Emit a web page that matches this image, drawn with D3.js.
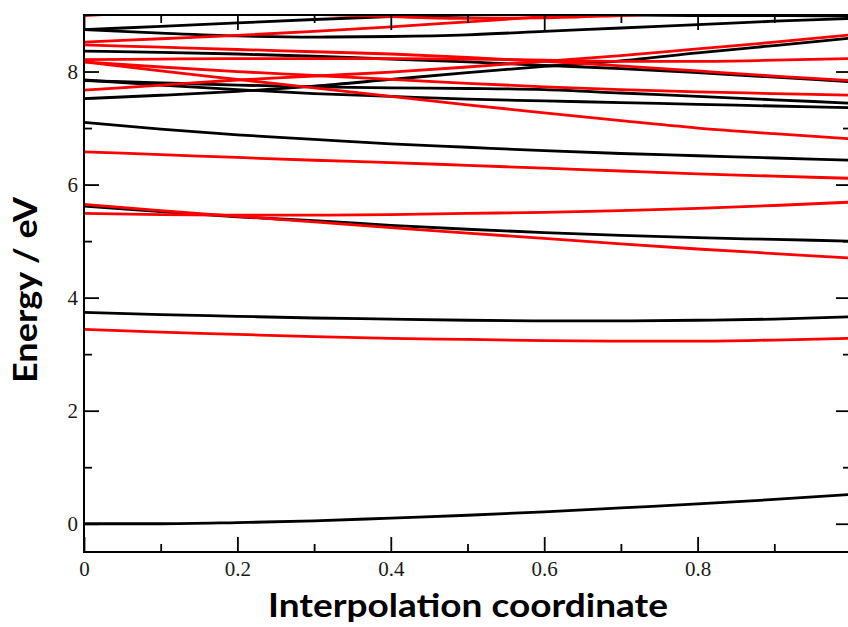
<!DOCTYPE html>
<html>
<head>
<meta charset="utf-8">
<script src="https://cdn.jsdelivr.net/npm/d3@7/dist/d3.min.js"></script>
<style>
  html, body { margin: 0; padding: 0; background: #fff; }
  svg { display: block; }
</style>
</head>
<body>
<svg id="chart" width="848" height="627"></svg>
<script>
// ---- data ----
const coords = [0, 0.1, 0.2, 0.3, 0.4, 0.5, 0.6, 0.7, 0.8, 0.9, 1.0];

// black curves
const blackGround = [0.00, 0.00, 0.02, 0.05, 0.10, 0.15, 0.21, 0.28, 0.35, 0.43, 0.52];
const black37     = [3.74, 3.70, 3.67, 3.64, 3.62, 3.60, 3.59, 3.59, 3.60, 3.62, 3.66];
const black56     = [5.62, 5.52, 5.43, 5.36, 5.28, 5.21, 5.15, 5.10, 5.06, 5.03, 5.00];
const black71     = [7.10, 6.98, 6.88, 6.80, 6.72, 6.66, 6.60, 6.55, 6.51, 6.47, 6.43];
const black75     = [7.52, 7.58, 7.65, 7.74, 7.86, 7.98, 8.09, 8.19, 8.33, 8.46, 8.59];
const black785a   = [7.85, 7.76, 7.68, 7.61, 7.56, 7.51, 7.48, 7.45, 7.42, 7.39, 7.36];
const black785b   = [7.84, 7.80, 7.76, 7.73, 7.71, 7.70, 7.68, 7.62, 7.56, 7.50, 7.44];
const black836    = [8.36, 8.34, 8.31, 8.27, 8.22, 8.17, 8.11, 8.05, 7.98, 7.90, 7.82];
const black874a   = [8.74, 8.68, 8.63, 8.61, 8.62, 8.65, 8.71, 8.77, 8.83, 8.89, 8.94];
const black874b   = [8.74, 8.80, 8.86, 8.92, 8.97, 9.00, 9.01, 9.00, 8.99, 8.99, 8.98];

// red curves
const red34       = [3.44, 3.39, 3.35, 3.31, 3.28, 3.26, 3.24, 3.23, 3.23, 3.25, 3.28];
const red55       = [5.49, 5.47, 5.46, 5.46, 5.47, 5.49, 5.51, 5.54, 5.58, 5.63, 5.69];
const red565      = [5.65, 5.54, 5.44, 5.34, 5.24, 5.14, 5.05, 4.95, 4.86, 4.78, 4.70];
const red66       = [6.58, 6.53, 6.48, 6.43, 6.39, 6.34, 6.29, 6.24, 6.19, 6.15, 6.11];
const red767      = [7.67, 7.76, 7.85, 7.92, 7.99, 8.08, 8.18, 8.28, 8.40, 8.52, 8.65];
const red817a     = [8.17, 8.01, 7.86, 7.71, 7.56, 7.41, 7.27, 7.13, 7.00, 6.90, 6.81];
const red817b     = [8.17, 8.08, 8.00, 7.93, 7.86, 7.79, 7.73, 7.68, 7.64, 7.61, 7.58];
const red821      = [8.21, 8.22, 8.23, 8.23, 8.23, 8.22, 8.20, 8.18, 8.18, 8.20, 8.23];
const red847      = [8.47, 8.43, 8.39, 8.35, 8.31, 8.25, 8.18, 8.10, 8.01, 7.92, 7.84];
const red852      = [8.52, 8.58, 8.64, 8.71, 8.79, 8.88, 8.97, 9.06, 9.15, 9.24, 9.33];
const red90       = [8.99, 9.06, 9.13, 9.20, 9.27, 9.34, 9.41, 9.48, 9.55, 9.62, 9.69];
const red91       = [9.12, 9.09, 9.06, 9.01, 8.97, 8.94, 8.95, 8.99, 9.04, 9.10, 9.16];

const blackCurves = [blackGround, black37, black56, black71, black75, black785a, black785b, black836, black874a, black874b];
const redCurves = [red34, red55, red565, red66, red767, red817a, red817b, red821, red847, red852, red90, red91];

const xMajorTicks = [0, 0.2, 0.4, 0.6, 0.8, 1.0];
const xTickLabels = ["0", "0.2", "0.4", "0.6", "0.8", ""];
const xMinorTicks = [0.1, 0.3, 0.5, 0.7, 0.9];
const yMajorTicks = [0, 2, 4, 6, 8];
const yTickLabels = ["0", "2", "4", "6", "8"];
const yMinorTicks = [1, 3, 5, 7];

const xTitle = "Interpolation coordinate";
const yTitle = "Energy / eV";

// ---- drawing ----
(function () {
const svg = d3.select("#chart");
const pL = 84, pR = 851, pT = 15, pB = 552;

const x = d3.scaleLinear().domain([0, 1]).range([pL, pR]);
const y = d3.scaleLinear().domain([-0.5, 9]).range([pB, pT]);

svg.append("defs").append("clipPath").attr("id", "plotclip")
  .append("rect").attr("x", pL).attr("y", pT)
  .attr("width", pR - pL).attr("height", pB - pT);

const line = d3.line()
  .x((d, i) => x(coords[i]))
  .y(d => y(d))
  .curve(d3.curveMonotoneX);

const plot = svg.append("g").attr("clip-path", "url(#plotclip)");

plot.selectAll("path.black").data(blackCurves).join("path")
  .attr("class", "black")
  .attr("d", line)
  .attr("fill", "none")
  .attr("stroke", "#000")
  .attr("stroke-width", 2.8)
  .attr("stroke-linejoin", "round");

plot.selectAll("path.red").data(redCurves).join("path")
  .attr("class", "red")
  .attr("d", line)
  .attr("fill", "none")
  .attr("stroke", "#ff0000")
  .attr("stroke-width", 2.8)
  .attr("stroke-linejoin", "round");

function styleAxis(g) {
  g.select(".domain").remove();
  g.selectAll(".tick line").attr("stroke", "#000").attr("stroke-width", 1.8);
  g.selectAll(".tick text")
    .attr("fill", "#1a1a1a")
    .style("font-family", "'Liberation Serif', 'DejaVu Serif', serif")
    .style("font-size", "21px");
}

// bottom
svg.append("g").attr("transform", `translate(0,${pB})`)
  .call(d3.axisBottom(x).tickValues(xMajorTicks).tickSize(-15).tickPadding(9)
    .tickFormat((d, i) => xTickLabels[i]))
  .call(styleAxis);
svg.append("g").attr("transform", `translate(0,${pB})`)
  .call(d3.axisBottom(x).tickValues(xMinorTicks).tickSize(-8).tickFormat(""))
  .call(styleAxis);
// top
svg.append("g").attr("transform", `translate(0,${pT})`)
  .call(d3.axisTop(x).tickValues(xMajorTicks).tickSize(-15).tickFormat(""))
  .call(styleAxis);
svg.append("g").attr("transform", `translate(0,${pT})`)
  .call(d3.axisTop(x).tickValues(xMinorTicks).tickSize(-8).tickFormat(""))
  .call(styleAxis);
// left
svg.append("g").attr("transform", `translate(${pL},0)`)
  .call(d3.axisLeft(y).tickValues(yMajorTicks).tickSize(-15).tickPadding(6)
    .tickFormat((d, i) => yTickLabels[i]))
  .call(styleAxis);
svg.append("g").attr("transform", `translate(${pL},0)`)
  .call(d3.axisLeft(y).tickValues(yMinorTicks).tickSize(-8).tickFormat(""))
  .call(styleAxis);
// right
svg.append("g").attr("transform", `translate(${pR},0)`)
  .call(d3.axisRight(y).tickValues(yMajorTicks).tickSize(-15).tickFormat(""))
  .call(styleAxis);
svg.append("g").attr("transform", `translate(${pR},0)`)
  .call(d3.axisRight(y).tickValues(yMinorTicks).tickSize(-8).tickFormat(""))
  .call(styleAxis);

// frame
svg.append("rect")
  .attr("x", pL).attr("y", pT)
  .attr("width", pR - pL).attr("height", pB - pT)
  .attr("fill", "none").attr("stroke", "#000").attr("stroke-width", 2);

// titles
svg.append("text")
  .attr("x", 468).attr("y", 617)
  .attr("text-anchor", "middle")
  .attr("textLength", 400).attr("lengthAdjust", "spacingAndGlyphs")
  .style("font-family", "Lato, 'Open Sans', sans-serif")
  .style("font-weight", "bold")
  .style("font-size", "32px")
  .attr("fill", "#000")
  .text(xTitle);

svg.append("text")
  .attr("transform", "translate(37,290) rotate(-90)")
  .attr("text-anchor", "middle")
  .attr("textLength", 186).attr("lengthAdjust", "spacingAndGlyphs")
  .style("font-family", "Lato, 'Open Sans', sans-serif")
  .style("font-weight", "bold")
  .style("font-size", "32px")
  .attr("fill", "#000")
  .text(yTitle);
})();
</script>
</body>
</html>
